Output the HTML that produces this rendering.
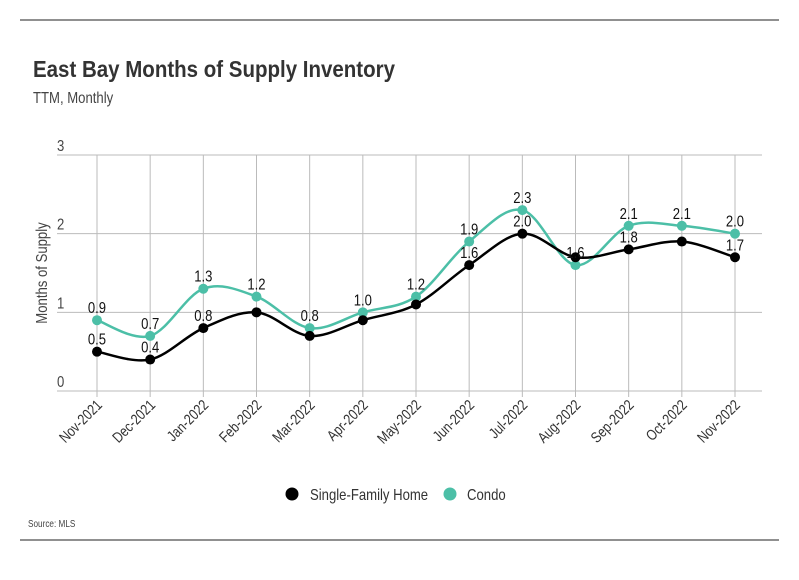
<!DOCTYPE html>
<html><head><meta charset="utf-8"><style>
body{margin:0;background:#fff;width:799px;height:575px;overflow:hidden;font-family:"Liberation Sans Narrow","Liberation Sans",sans-serif;}
svg text{font-family:"Liberation Sans Narrow","Liberation Sans",sans-serif;}
</style></head><body>
<svg id="chart" width="799" height="575">
<line x1="20" y1="20" x2="779" y2="20" stroke="#222" stroke-width="1"/>
<line x1="20" y1="540" x2="779" y2="540" stroke="#222" stroke-width="1"/>
<text x="33" y="77" font-size="23" font-weight="bold" fill="#333" textLength="362" lengthAdjust="spacingAndGlyphs">East Bay Months of Supply Inventory</text>
<text class="n" x="33" y="103" font-size="16" fill="#444">TTM, Monthly</text>
<text class="n" transform="translate(47,273) rotate(-90)" text-anchor="middle" font-size="16" fill="#444">Months of Supply</text>
<text class="n" x="28" y="527" font-size="10" fill="#444">Source:  MLS</text>
<g id="grid"></g><g id="lines"></g><g id="pts"></g><g id="labels"></g>
<g>
<circle cx="292" cy="494" r="6.5" fill="#000"/>
<text class="n" x="310" y="500" font-size="16" fill="#333">Single-Family Home</text>
<circle cx="450" cy="494" r="6.5" fill="#4cbfa7"/>
<text class="n" x="467" y="500" font-size="16" fill="#333">Condo</text>
</g>
</svg>
<script>
const categories=["Nov-2021","Dec-2021","Jan-2022","Feb-2022","Mar-2022","Apr-2022","May-2022","Jun-2022","Jul-2022","Aug-2022","Sep-2022","Oct-2022","Nov-2022"];
const sfh=[0.5,0.4,0.8,1.0,0.7,0.9,1.1,1.6,2.0,1.7,1.8,1.9,1.7];
const sfhLabels=["0.5","0.4","0.8","","","","","1.6","2.0","","1.8","","1.7"];
const condo=[0.9,0.7,1.3,1.2,0.8,1.0,1.2,1.9,2.3,1.6,2.1,2.1,2.0];
const yTicks=[0,1,2,3];
const NS="http://www.w3.org/2000/svg";
const xs=i=>97+i*(735-97)/(categories.length-1);
const ys=v=>391-v*(391-155)/3;
function mk(tag,attrs,parent,txt){const e=document.createElementNS(NS,tag);for(const k in attrs)e.setAttribute(k,attrs[k]);if(txt!==undefined)e.textContent=txt;document.getElementById(parent).appendChild(e);return e;}
yTicks.forEach(t=>{
 let l=mk('line',{x1:57,x2:762,y1:ys(t),y2:ys(t),stroke:'#bbb','stroke-width':1},'grid');
 
 
 let tx=mk('text',{x:57,y:ys(t)-4,'font-size':16,fill:'#444',class:'n'},'grid',String(t));
 
 
});
categories.forEach((c,i)=>{
 let l=mk('line',{x1:xs(i),x2:xs(i),y1:155,y2:397,stroke:'#bbb','stroke-width':1},'grid');
 
 
 let tx=mk('text',{transform:`translate(${xs(i)+6},${406}) rotate(-45)`,'text-anchor':'end','font-size':15,fill:'#333',class:'n'},'grid',c);
 
 
});
function path(vals){
 const p=vals.map((v,i)=>[xs(i),ys(v)]);let d=`M${p[0][0]},${p[0][1]}`;
 for(let i=0;i<p.length-1;i++){const p0=p[i-1]||p[i],p1=p[i],p2=p[i+1],p3=p[i+2]||p2;const k=6;
  d+=` C${p1[0]+(p2[0]-p0[0])/k},${p1[1]+(p2[1]-p0[1])/k} ${p2[0]-(p3[0]-p1[0])/k},${p2[1]-(p3[1]-p1[1])/k} ${p2[0]},${p2[1]}`;}
 return d;}
[[condo,'#4cbfa7','condo'],[sfh,'#000','sfh']].forEach(([vals,col,nm])=>{
 let l=mk('path',{d:path(vals),fill:'none',stroke:col,'stroke-width':2.5},'lines');
 
 
 vals.forEach((v,i)=>{
  let c=mk('circle',{cx:xs(i),cy:ys(v),r:5,fill:col},'pts');
  
  
 });
});
condo.forEach((v,i)=>{
 let t=mk('text',{x:xs(i),y:ys(v)-7,'text-anchor':'middle','font-size':16,fill:'#111',class:'n'},'labels',v.toFixed(1));
 
 
});
sfh.forEach((v,i)=>{
 if(!sfhLabels[i])return;
 let t=mk('text',{x:xs(i),y:ys(v)-7,'text-anchor':'middle','font-size':16,fill:'#111',class:'n'},'labels',sfhLabels[i]);
 
 
});
document.querySelectorAll('text.n').forEach(t=>{
 const w=t.getComputedTextLength();
 t.setAttribute('textLength',(w*0.82).toFixed(1));
 t.setAttribute('lengthAdjust','spacingAndGlyphs');
});
</script>
</body></html>
